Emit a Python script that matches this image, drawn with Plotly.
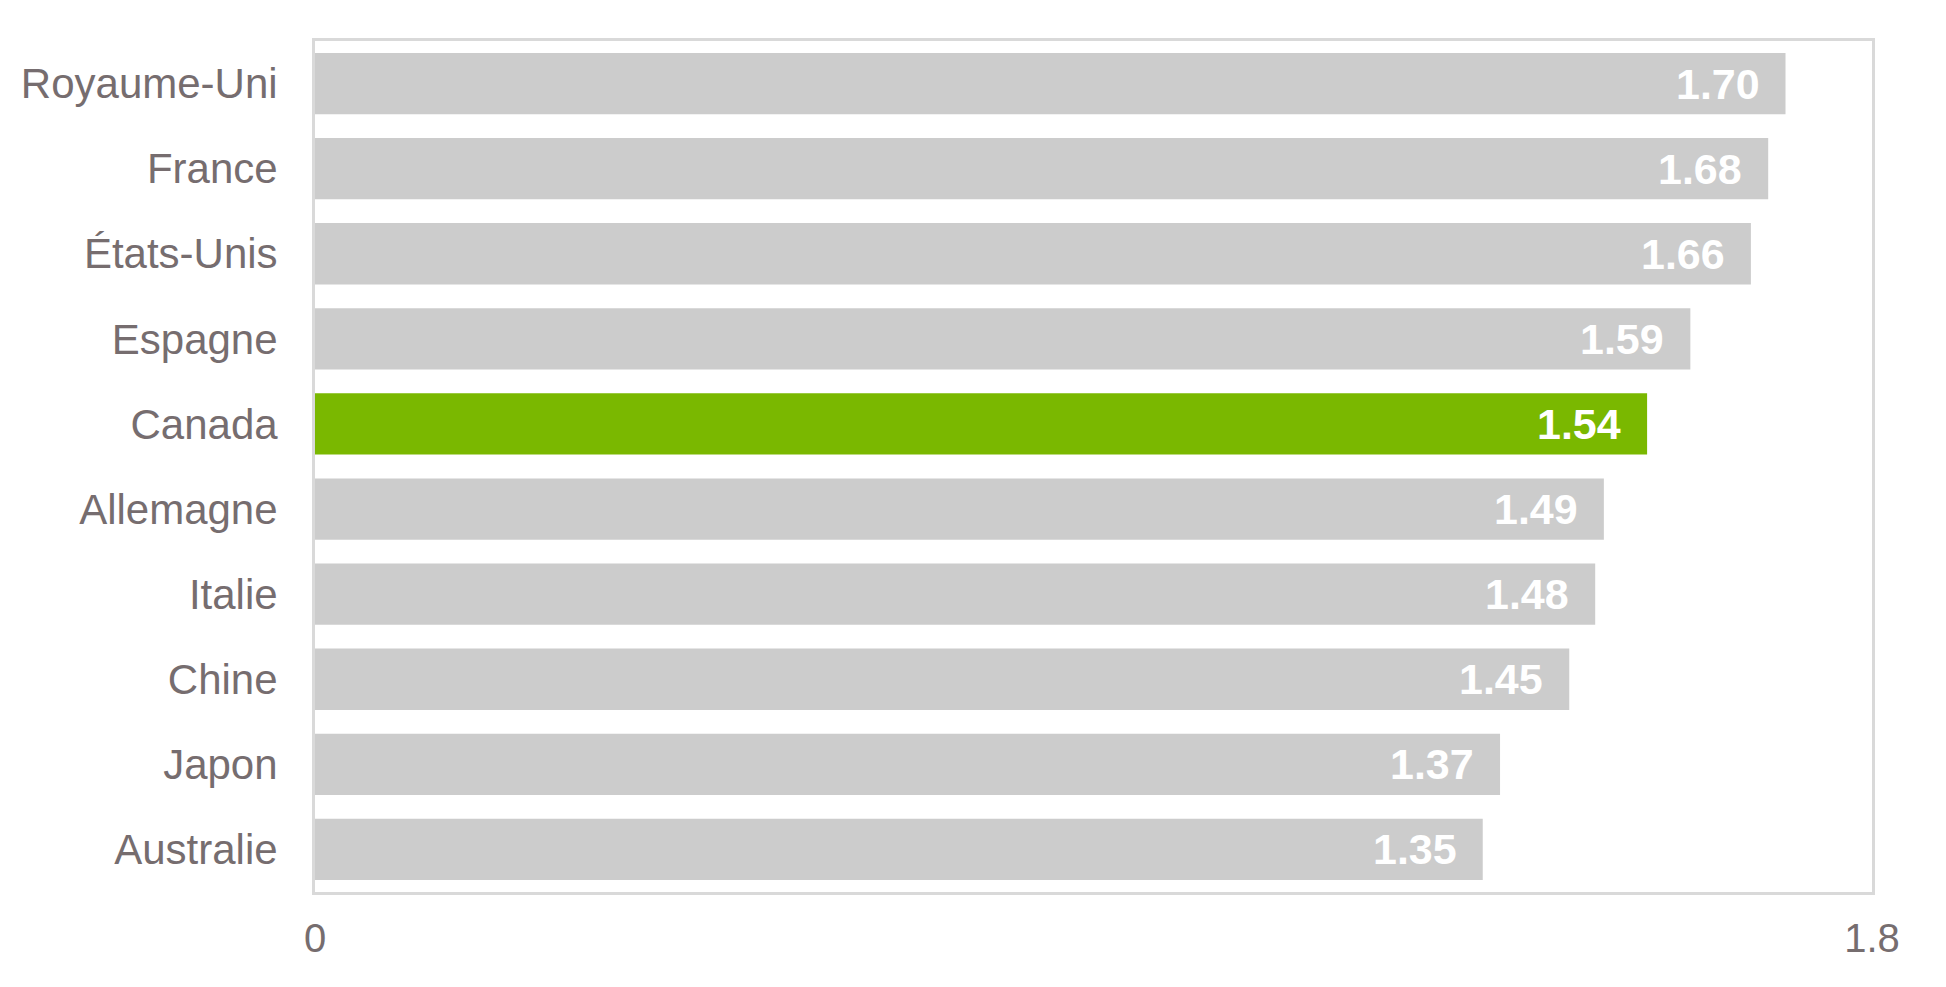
import plotly.graph_objects as go

countries = ["Royaume-Uni", "France", "États-Unis", "Espagne", "Canada",
             "Allemagne", "Italie", "Chine", "Japon", "Australie"]
values = [1.70, 1.68, 1.66, 1.59, 1.54, 1.49, 1.48, 1.45, 1.37, 1.35]
highlight = "Canada"
x_ticks = [0, 1.8]
x_tick_labels = ["0", "1.8"]

colors = ["#7ab800" if c == highlight else "#cccccc" for c in countries]

fig = go.Figure()
fig.add_trace(go.Bar(
    y=countries, x=values, orientation="h",
    marker=dict(color=colors, line=dict(width=0)),
    hoverinfo="skip",
))

for c, v in zip(countries, values):
    fig.add_annotation(
        x=v, y=c, text=f"<b>{v:.2f}</b>", showarrow=False,
        xanchor="right", xshift=-24, yshift=0,
        font=dict(family="Arial, Liberation Sans, sans-serif", size=43, color="white"),
    )

fig.update_layout(
    width=1946, height=987,
    margin=dict(l=307, r=82, t=33, b=103),
    plot_bgcolor="white", paper_bgcolor="white",
    bargap=0.28,
    showlegend=False,
    font=dict(family="Arial, Liberation Sans, sans-serif", size=42, color="#766d6f"),
)
fig.update_xaxes(
    range=[0, 1.8], tickvals=x_ticks, ticktext=x_tick_labels,
    showgrid=False, zeroline=False,
    showline=True, mirror=True, linecolor="#d9d9d9", linewidth=3,
    ticks="", ticklabelstandoff=9,
    tickfont=dict(size=40, color="#766d6f"),
)
fig.update_yaxes(
    categoryorder="array", categoryarray=countries, autorange="reversed",
    showgrid=False, zeroline=False,
    showline=True, mirror=True, linecolor="#d9d9d9", linewidth=3,
    ticks="", ticklabelstandoff=26,
    tickfont=dict(size=42, color="#766d6f"),
)

fig.write_html("out.html")
